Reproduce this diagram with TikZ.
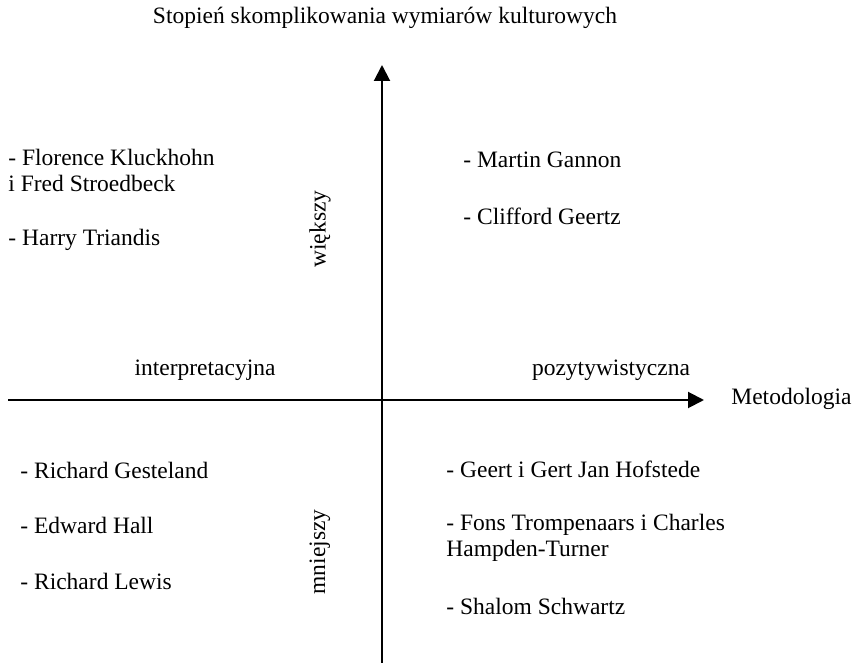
\documentclass[tikz,border=0pt]{standalone}
\usepackage{fontspec}
\setmainfont{Liberation Serif}
\usepackage{tikz}
\usetikzlibrary{arrows.meta}

\begin{document}
\begin{tikzpicture}[x=0.5pt,y=-0.5pt,
  every node/.style={font=\fontsize{11.75}{13}\selectfont, inner sep=0pt},
  axis/.style={line width=1pt, -{Triangle[width=8pt,length=8pt]}},
  entry/.style={anchor=west, align=left}]
\useasboundingbox (0,0) rectangle (859,663);

% axes
\coordinate (bottom) at (382,663);
\coordinate (top) at (382,65);
\coordinate (left) at (8,400);
\coordinate (right) at (704,400);
\draw[axis] (bottom) -- (top);
\draw[axis] (left) -- (right);

% axis labels
\node (title) at (385,18) {Stopień skomplikowania wymiarów kulturowych};
\node[anchor=west] (metod) at (731,399) {Metodologia};
\node (interp) at (205,370) {interpretacyjna};
\node (pozyt) at (611,370) {pozytywistyczna};
\node[rotate=90] (wiekszy) at (320,229) {większy};
\node[rotate=90] (mniejszy) at (320,552) {mniejszy};

% quadrants
\node[entry] (kluck) at (8,170) {- Florence Kluckhohn\\i Fred Stroedbeck};
\node[entry] (triandis) at (8,240) {- Harry Triandis};
\node[entry] (gannon) at (463,160) {- Martin Gannon};
\node[entry] (geertz) at (463,216) {- Clifford Geertz};
\foreach \name/\y/\txt in {gest/470/Richard Gesteland, hall/525/Edward Hall, lewis/581/Richard Lewis}
  \node[entry] (\name) at (20,\y) {- \txt};
\node[entry] (hofst) at (446,469) {- Geert i Gert Jan Hofstede};
\node[entry] (tromp) at (446,538) {- Fons Trompenaars i Charles\\Hampden-Turner};
\node[entry] (schwartz) at (446,606) {- Shalom Schwartz};
\end{tikzpicture}
\end{document}
